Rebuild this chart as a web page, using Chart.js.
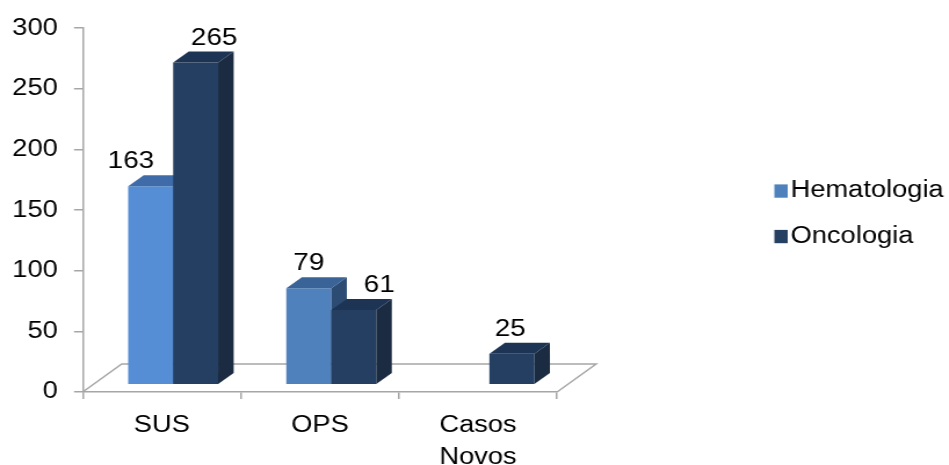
<!DOCTYPE html>
<html>
<head>
<meta charset="utf-8">
<script src="https://cdn.jsdelivr.net/npm/chart.js@4/dist/chart.umd.min.js"></script>
<style>
  html, body { margin: 0; padding: 0; background: #fff; overflow: hidden; }
  /* the original picture is stretched sideways, so draw narrow and widen */
  #wrap { width: 818px; height: 465px; transform: scaleX(1.1601); transform-origin: 0 0; }
</style>
</head>
<body>
<div id="wrap"><canvas id="chart" width="818" height="465"></canvas></div>
<script>
const categories = ["SUS", "OPS", ["Casos", "Novos"]];
const hematologia = [163, 79, null];
const oncologia = [265, 61, 25];

const FONT = "'Liberation Sans', Arial, sans-serif";
const GRAY = "#a6a6a6";

// 3D look of the boxes
const DEPTH_X = 13.4, DEPTH_Y = -11;      // bar depth
const SHIFT_X = 9.8, SHIFT_Y = -8;        // bars stand in the middle of the floor
const FLOOR_X = 33.6, FLOOR_Y = -28;      // floor depth

const FACES = [
  { front: ["#558ED5", "#4F81BD", "#4F81BD"], top: ["#3F6CA8", "#3A6398", "#3A6398"], side: ["#2E5080", "#2C4C74", "#2C4C74"], legend: "#4F81BD" },
  { front: ["#243F62", "#243F62", "#243F62"], top: ["#1E3454", "#1E3454", "#1E3454"], side: ["#1A2B42", "#1A2B42", "#1A2B42"], legend: "#254061" }
];
// hand placed value labels in the original
const LABEL_NUDGE = [[-17, 0, 0], [16, 22, -1.5]];

function poly(ctx, pts, color) {
  ctx.beginPath();
  ctx.moveTo(pts[0][0], pts[0][1]);
  pts.slice(1).forEach(p => ctx.lineTo(p[0], p[1]));
  ctx.closePath();
  ctx.fillStyle = color;
  ctx.fill();
}

const box3d = {
  id: "box3d",
  beforeDatasetsDraw(chart) {
    const { ctx, chartArea: a } = chart;
    ctx.save();
    ctx.strokeStyle = GRAY;
    ctx.lineWidth = 1.5;
    ctx.beginPath();
    ctx.moveTo(a.left, a.bottom);
    ctx.lineTo(a.left + FLOOR_X, a.bottom + FLOOR_Y);
    ctx.lineTo(a.right + FLOOR_X, a.bottom + FLOOR_Y);
    ctx.lineTo(a.right, a.bottom);
    ctx.stroke();
    ctx.restore();
  },
  afterDatasetsDraw(chart) {
    const ctx = chart.ctx;
    const y = chart.scales.y;
    ctx.save();
    chart.data.datasets.forEach((ds, di) => {
      const meta = chart.getDatasetMeta(di);
      meta.data.forEach((bar, i) => {
        const v = ds.data[i];
        if (v === null || v === undefined) return;
        const x0 = bar.x - bar.width / 2 + SHIFT_X;
        const x1 = x0 + bar.width;
        const top = y.getPixelForValue(v) + SHIFT_Y;
        const bot = y.getPixelForValue(0) + SHIFT_Y;
        const f = FACES[di];
        poly(ctx, [[x0, bot], [x0, top], [x1, top], [x1, bot]], f.front[i]);
        poly(ctx, [[x0, top], [x0 + DEPTH_X, top + DEPTH_Y], [x1 + DEPTH_X, top + DEPTH_Y], [x1, top]], f.top[i]);
        poly(ctx, [[x1, top], [x1 + DEPTH_X, top + DEPTH_Y], [x1 + DEPTH_X, bot + DEPTH_Y], [x1, bot]], f.side[i]);
      });
    });
    // value labels
    ctx.fillStyle = "#000";
    ctx.font = "24px " + FONT;
    ctx.textAlign = "center";
    ctx.textBaseline = "alphabetic";
    chart.data.datasets.forEach((ds, di) => {
      chart.getDatasetMeta(di).data.forEach((bar, i) => {
        const v = ds.data[i];
        if (v === null || v === undefined) return;
        const cx = bar.x + SHIFT_X + LABEL_NUDGE[di][i];
        const backTop = y.getPixelForValue(v) + SHIFT_Y + DEPTH_Y;
        ctx.fillText(String(v), cx, backTop - 7);
      });
    });
    ctx.restore();
  },
  afterDraw(chart) {
    // legend on the right
    const ctx = chart.ctx;
    ctx.save();
    ctx.font = "23.5px " + FONT;
    ctx.textAlign = "left";
    ctx.textBaseline = "middle";
    const rows = [191, 236.5];
    chart.data.datasets.forEach((ds, di) => {
      ctx.fillStyle = FACES[di].legend;
      ctx.fillRect(667.5, rows[di] - 6.6, 11.5, 13.3);
      ctx.fillStyle = "#000";
      ctx.fillText(ds.label, 681.5, rows[di]);
    });
    ctx.restore();
  }
};

const ctx = document.getElementById("chart").getContext("2d");
new Chart(ctx, {
  type: "bar",
  data: {
    labels: categories,
    datasets: [
      { label: "Hematologia", data: hematologia, backgroundColor: "rgba(0,0,0,0)" },
      { label: "Oncologia", data: oncologia, backgroundColor: "rgba(0,0,0,0)" }
    ]
  },
  options: {
    responsive: false,
    animation: false,
    events: [],
    layout: { padding: { top: 22.7, right: 337.8, bottom: 0, left: 0 } },
    datasets: { bar: { categoryPercentage: 0.569, barPercentage: 1 } },
    scales: {
      x: {
        grid: { offset: true, drawOnChartArea: false, tickLength: 7, color: GRAY, lineWidth: 1.5 },
        border: { color: GRAY, width: 1.5 },
        ticks: { color: "#000", padding: 11, maxRotation: 0, autoSkip: false, font: { family: FONT, size: 23.5, lineHeight: 32 / 23.5 } },
        afterFit(scale) { scale.height = 73; }
      },
      y: {
        min: 0,
        max: 300,
        grid: { drawOnChartArea: false, tickLength: 7.5, color: GRAY, lineWidth: 1.5 },
        border: { color: GRAY, width: 1.5 },
        ticks: { stepSize: 50, color: "#000", padding: 14, font: { family: FONT, size: 23.5 } },
        afterFit(scale) { scale.width = 71.3; }
      }
    },
    plugins: {
      legend: { display: false },
      tooltip: { enabled: false }
    }
  },
  plugins: [box3d]
});
</script>
</body>
</html>
